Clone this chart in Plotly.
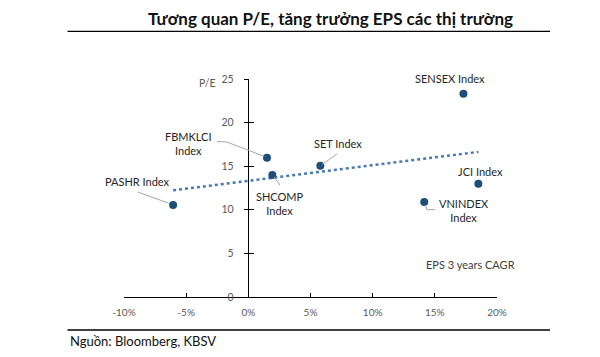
import numpy as np
import plotly.graph_objects as go

# ---- data ----
names = ["PASHR Index", "FBMKLCI<br>Index", "SHCOMP<br>Index", "SET Index",
         "SENSEX Index", "JCI Index", "VNINDEX<br>Index"]
eps_cagr = [-6.05, 1.5, 1.93, 5.79, 17.3, 18.5, 14.15]   # %
pe = [10.55, 15.97, 14.0, 15.06, 23.3, 13.0, 10.9]
x_ticks = [-10, -5, 0, 5, 10, 15, 20]
x_ticklabels = ["-10%", "-5%", "0%", "5%", "10%", "15%", "20%"]
y_ticks = [0, 5, 10, 15, 20, 25]

# ---- layout geometry (page pixels; page body has an 8px margin) ----
OFF = 8
W, H = 600 - OFF, 357 - OFF
L_PX, R_PX, T_PX, B_PX = 124, 497, 79, 297     # plot area edges on the page
ML, MR = L_PX - OFF, OFF + W - R_PX
MT, MB = T_PX - OFF, OFF + H - B_PX
PW, PH = R_PX - L_PX, B_PX - T_PX
def px_x(p): return (p - L_PX) / PW
def px_y(p): return (B_PX - p) / PH

FONT = "Lato, 'Noto Sans', sans-serif"

# trendline via least squares
coef = np.polyfit(eps_cagr, pe, 1)
tx = np.array([min(eps_cagr), max(eps_cagr)])
ty = np.polyval(coef, tx)

fig = go.Figure()
fig.add_trace(go.Scatter(x=tx, y=ty, mode="lines",
                         line=dict(color="#4a7ab3", width=2.5, dash="dot"),
                         hoverinfo="skip", showlegend=False))
fig.add_trace(go.Scatter(x=eps_cagr, y=pe, mode="markers",
                         marker=dict(color="#1f4e79", size=8),
                         showlegend=False, cliponaxis=False))
fig.add_trace(go.Scatter(x=[], y=[], yaxis="y2", showlegend=False))

# label offsets (pixels, y up) and leader lines (pixel paths relative to point)
label_off = [(-35.4, 23.3), (-78, 14.7), (7.7, -29), (17.3, 22),
             (-13.3, 15), (2.3, 11.7), (39.7, -8.3)]
leaders = [
    "M-35.3,13 L-4.3,1.7",
    "M-50,16.3 L-40,15.7 L-2.7,1.3",
    "M1.7,-2 L7.7,-10.3",
    "M16.7,11.7 L2,1.3",
    None,
    None,
    "M1,-3 L2.7,-7.7 L11,-7.7",
]

annotations = []
shapes = []
for n, x, y, (dx, dy), lp in zip(names, eps_cagr, pe, label_off, leaders):
    annotations.append(dict(x=x, y=y, xref="x", yref="y", text=n, showarrow=False,
                            xshift=dx, yshift=dy, align="center",
                            xanchor="center", yanchor="middle",
                            font=dict(family=FONT, size=11, color="#262626")))
    if lp:
        shapes.append(dict(type="path", xref="x", yref="y",
                           xsizemode="pixel", ysizemode="pixel",
                           xanchor=x, yanchor=y, path=lp,
                           line=dict(color="#a6a6a6", width=1)))

def paper_text(px, py, text, size, color, xanchor="center", bold=False):
    return dict(x=px_x(px), y=px_y(py), xref="paper", yref="paper",
                xanchor=xanchor, yanchor="middle", showarrow=False,
                text=f"<b>{text}</b>" if bold else text,
                font=dict(family=FONT, size=size, color=color))

annotations.append(paper_text(207.3, 83, "P/E", 10.5, "#595959"))
annotations.append(paper_text(470.7, 264, "EPS 3 years CAGR", 11, "#404040"))
annotations.append(paper_text(330, 18, "Tương quan P/E, tăng trưởng EPS các thị trường",
                              17, "#111111", bold=True))
annotations.append(paper_text(67.5, 341, "Nguồn: Bloomberg, KBSV", 13, "#111111",
                              xanchor="left"))

for py in (31.3, 330):
    shapes.append(dict(type="line", xref="paper", yref="paper",
                       x0=px_x(67.5), x1=px_x(550), y0=px_y(py), y1=px_y(py),
                       line=dict(color="#000000", width=1.3)))

yaxis_pos = (0 - x_ticks[0]) / (x_ticks[-1] - x_ticks[0])

fig.update_layout(
    width=W, height=H, margin=dict(l=ML, r=MR, t=MT, b=MB),
    paper_bgcolor="white", plot_bgcolor="white",
    xaxis=dict(range=[x_ticks[0], x_ticks[-1]], tickvals=x_ticks, ticktext=x_ticklabels,
               showgrid=False, zeroline=False, showline=True, linecolor="#000000",
               linewidth=1.3, ticks="inside", ticklen=4, tickcolor="#000000",
               tickwidth=1, ticklabelstandoff=6,
               tickfont=dict(family=FONT, size=10, color="#595959")),
    yaxis=dict(range=[0, 25], tickvals=y_ticks, showgrid=False, zeroline=False,
               showline=True, linecolor="#000000", linewidth=1.3,
               anchor="free", position=yaxis_pos,
               ticks="outside", ticklen=4.5, tickcolor="#000000", tickwidth=1,
               ticklabelstandoff=8,
               tickfont=dict(family=FONT, size=10.5, color="#595959")),
    yaxis2=dict(range=[0, 25], tickvals=y_ticks, overlaying="y", anchor="free",
                position=yaxis_pos, showgrid=False, zeroline=False, showline=False,
                ticks="inside", ticklen=4.5, tickcolor="#000000", tickwidth=1,
                showticklabels=False),
    annotations=annotations, shapes=shapes,
)

fig.write_html("out.html")
